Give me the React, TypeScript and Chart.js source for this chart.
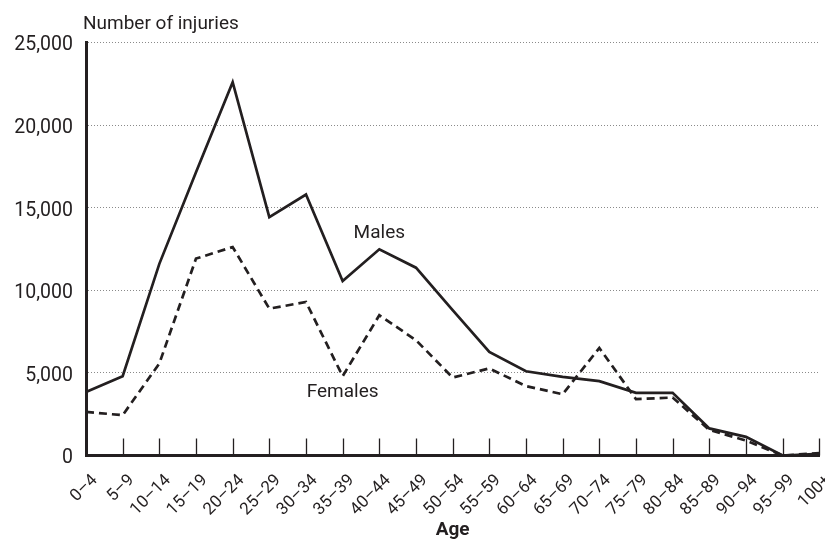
import React, { useEffect, useRef } from 'react';
import { Chart, registerables } from 'chart.js';

Chart.register(...registerables);

// ---- data ----
const ageGroups = ['0–4', '5–9', '10–14', '15–19', '20–24', '25–29', '30–34', '35–39', '40–44', '45–49', '50–54', '55–59', '60–64', '65–69', '70–74', '75–79', '80–84', '85–89', '90–94', '95–99', '100+'];
const males = [3850, 4800, 11600, 17150, 22600, 14430, 15800, 10560, 12480, 11370, 8800, 6270, 5100, 4760, 4500, 3790, 3790, 1640, 1130, 0, 100];
const females = [2640, 2440, 5570, 11920, 12620, 8890, 9290, 4800, 8490, 6980, 4720, 5270, 4200, 3710, 6510, 3410, 3510, 1550, 900, 0, 150];
const yTickValues = [0, 5000, 10000, 15000, 20000, 25000];
const yAxisTitle = 'Number of injuries';
const xAxisTitle = 'Age';
const seriesNames = ['Males', 'Females'];
// anchor of the in-chart series labels (category index, value)
const labelAnchors = [
  { index: 8, value: 13450 },
  { index: 7, value: 3830 },
];

const INK = '#231f20';
const FONT = "Roboto, 'Liberation Sans', sans-serif";

const innerTicks = {
  id: 'innerTicks',
  beforeDatasetsDraw(chart: any) {
    const { ctx, chartArea, scales } = chart;
    const x = scales.x;
    ctx.save();
    ctx.strokeStyle = INK;
    ctx.lineWidth = 1.3;
    x.ticks.forEach((_: any, i: number) => {
      const px = Math.round(x.getPixelForTick(i)) + 0.5;
      ctx.beginPath();
      ctx.moveTo(px, chartArea.bottom);
      ctx.lineTo(px, chartArea.bottom - 17);
      ctx.stroke();
    });
    ctx.restore();
  },
};

const textOverlay = {
  id: 'textOverlay',
  afterDraw(chart: any) {
    const { ctx, chartArea, scales } = chart;
    ctx.save();
    ctx.fillStyle = INK;
    ctx.font = `19px ${FONT}`;
    ctx.textAlign = 'left';
    ctx.textBaseline = 'alphabetic';
    ctx.fillText(yAxisTitle, chartArea.left - 3, 28.5);
    ctx.textAlign = 'center';
    ctx.textBaseline = 'middle';
    seriesNames.forEach((name, i) => {
      const a = labelAnchors[i];
      ctx.fillText(name, scales.x.getPixelForValue(a.index), scales.y.getPixelForValue(a.value));
    });
    ctx.restore();
  },
};

export default function App() {
  const canvasRef = useRef<HTMLCanvasElement | null>(null);

  useEffect(() => {
    document.body.style.margin = '0';
    const canvas = canvasRef.current;
    if (!canvas) return;
    const chart = new Chart(canvas, {
      type: 'line',
      data: {
        labels: ageGroups,
        datasets: [
          {
            label: seriesNames[0],
            data: males,
            borderColor: INK,
            borderWidth: 2.7,
            pointRadius: 0,
            tension: 0,
            fill: false,
          },
          {
            label: seriesNames[1],
            data: females,
            borderColor: INK,
            borderWidth: 2.7,
            borderDash: [8, 5],
            pointRadius: 0,
            tension: 0,
            fill: false,
          },
        ],
      },
      options: {
        animation: false,
        responsive: true,
        maintainAspectRatio: false,
        layout: { padding: { top: 42.5, right: 5.7, bottom: 0, left: 0 } },
        plugins: {
          legend: { display: false },
          tooltip: { enabled: false },
          title: { display: false },
        },
        scales: {
          x: {
            offset: false,
            grid: { display: false, drawTicks: false },
            border: { display: true, color: INK, width: 3 },
            ticks: {
              color: INK,
              font: { family: FONT, size: 17 },
              minRotation: 45,
              maxRotation: 45,
              padding: 15,
              labelOffset: 9,
              autoSkip: false,
            },
            title: {
              display: true,
              text: xAxisTitle,
              color: INK,
              font: { family: FONT, size: 19, weight: 'bold' },
              padding: { top: 0, bottom: 8 },
            },
            afterFit(scale: any) {
              scale.height = 94.5;
              scale.paddingLeft = 0;
              scale.paddingRight = 0;
            },
          },
          y: {
            min: 0,
            max: 25000,
            grid: { color: '#8a8a8a', lineWidth: 1, drawTicks: false },
            border: { display: true, color: INK, width: 3, dash: [1, 2] },
            afterBuildTicks(scale: any) {
              scale.ticks = yTickValues.map((v) => ({ value: v }));
            },
            ticks: {
              color: INK,
              font: { family: FONT, size: 19.5 },
              padding: 13,
              labelOffset: 3,
              callback: (v: any) => Number(v).toLocaleString('en-US'),
            },
            afterFit(scale: any) {
              scale.width = 86;
            },
          },
        },
      },
      plugins: [innerTicks, textOverlay],
    });
    return () => chart.destroy();
  }, []);

  return (
    <div style={{ position: 'fixed', left: 0, top: 0, width: 825, height: 550, background: '#fff' }}>
      <canvas ref={canvasRef} />
    </div>
  );
}
